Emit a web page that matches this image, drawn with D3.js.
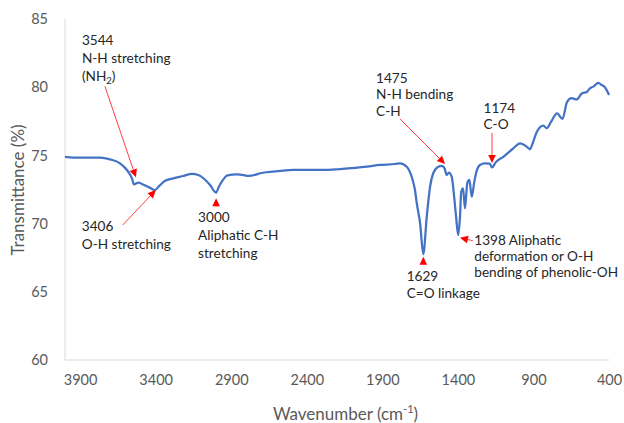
<!DOCTYPE html>
<html>
<head>
<meta charset="utf-8">
<script src="https://cdn.jsdelivr.net/npm/d3@7"></script>
<style>
  html, body { margin: 0; padding: 0; background: #fff; }
  svg { display: block; font-family: Lato, "Open Sans", sans-serif; }
</style>
</head>
<body>
<svg id="chart" width="624" height="423"></svg>
<script>
// FTIR spectrum: wavenumber (cm-1) vs transmittance (%)
const wavenumber = [
  4000, 3901, 3768, 3702, 3636, 3590, 3568, 3555, 3544, 3515, 3476, 3432, 3406, 3376, 3340,
  3283, 3217, 3161, 3118, 3078, 3040, 3000, 2982, 2958, 2925, 2864, 2809, 2787, 2731, 2709,
  2577, 2489, 2291, 2180, 2003, 1915, 1816, 1783, 1739, 1706, 1684, 1672, 1650, 1629, 1606,
  1584, 1563, 1530, 1507, 1488, 1475, 1460, 1441, 1427, 1412, 1398, 1386, 1378, 1366, 1353,
  1338, 1324, 1308, 1293, 1280, 1254, 1221, 1190, 1174, 1150, 1099, 1033, 989, 945, 923,
  905, 878, 835, 812, 784, 744, 708, 678, 647, 614, 580, 545, 526, 504, 471, 448, 426, 400
];
const transmittance = [
  74.90, 74.83, 74.83, 74.71, 74.42, 73.93, 73.56, 73.25, 72.88, 73.00, 72.83, 72.59, 72.46, 72.76, 73.12,
  73.32, 73.49, 73.64, 73.56, 73.27, 72.83, 72.27, 72.71, 73.15, 73.54, 73.61, 73.54, 73.49, 73.61, 73.69,
  73.86, 73.93, 73.93, 74.00, 74.17, 74.30, 74.37, 74.42, 74.17, 73.44, 72.46, 71.49, 70.02, 67.77, 70.51,
  72.71, 73.69, 74.17, 74.24, 74.05, 73.56, 73.73, 73.44, 72.22, 70.51, 69.16, 70.51, 72.34, 72.59, 71.12,
  72.95, 73.20, 71.97, 72.95, 73.69, 74.30, 74.42, 74.40, 74.12, 74.49, 74.90, 75.52, 75.89, 75.64, 75.45,
  75.89, 76.72, 77.19, 76.99, 77.45, 78.09, 77.67, 78.91, 79.19, 79.10, 79.54, 79.67, 79.92, 80.04, 80.31,
  80.16, 79.98, 79.43
];

const xTicks = [3900, 3400, 2900, 2400, 1900, 1400, 900, 400];
const yTicks = [60, 65, 70, 75, 80, 85];

// Assigned bands
const peakWavenumbers = [3544, 3406, 3000, 1475, 1174, 1629, 1398];
const peakLabels = [
  ["3544", "N-H stretching", "(NH|2|)"],
  ["3406", "O-H stretching"],
  ["3000", "Aliphatic C-H", "stretching"],
  ["1475", "N-H bending", "C-H"],
  ["1174", "C-O"],
  ["1629", "C=O linkage"],
  ["1398 Aliphatic", "deformation or O-H", "bending of phenolic-OH"]
];

// Callout placement relative to the band's point on the curve (px)
const calloutLayout = [
  { tip: [2, -7],    tail: [-29, -98],  text: [-52, -144], lh: 18 },
  { tip: [1, 0],     tail: [-32, 35],   text: [-73, 36],   lh: 18 },
  { tip: [0, 5.5],   tail: [0, 14.5],   text: [-18, 24.7], lh: 18 },
  { tip: [-1.5, -11],tail: [-46.5, -56],text: [-70.5, -97],lh: 16.6 },
  { tip: [0, -4.5],  tail: [0, -34.5],  text: [-8.5, -59.7],lh: 16.7 },
  { tip: [0, 2.7],   tail: [0, 11],     text: [-16.6, 22], lh: 17.3 },
  { tip: [1.8, 2.6], tail: [14.5, 5.6], text: [16.1, 5.6], lh: 16 }
];

const svg = d3.select("#chart");

const x = d3.scaleLinear().domain([4000, 400]).range([65, 609]);
const y = d3.scaleLinear().domain([60, 85]).range([360, 19]);

// Axis lines
svg.append("line")
  .attr("x1", x(4000)).attr("x2", x(4000))
  .attr("y1", y(85)).attr("y2", y(60))
  .attr("stroke", "#d9d9d9").attr("stroke-width", 1);

const xAxis = svg.append("g").attr("transform", `translate(0,${y(60)})`)
  .call(d3.axisBottom(x).tickValues(xTicks).tickSize(0).tickPadding(15).tickFormat(d3.format("d")));
xAxis.select(".domain").attr("stroke", "#d9d9d9").attr("d", `M${x(4000)},0H${x(400)}`);
xAxis.selectAll("text").attr("fill", "#595959").attr("font-size", 14.5)
  .attr("font-family", "Lato, sans-serif");

const yAxis = svg.append("g").attr("transform", `translate(${x(4000)},0)`)
  .call(d3.axisLeft(y).tickValues(yTicks).tickSize(0).tickPadding(17));
yAxis.select(".domain").remove();
yAxis.selectAll("text").attr("fill", "#595959").attr("font-size", 14.5)
  .attr("font-family", "Lato, sans-serif");

// Axis titles
const xTitle = svg.append("text")
  .attr("x", 345.5).attr("y", 420)
  .attr("text-anchor", "middle").attr("fill", "#595959").attr("font-size", 17);
xTitle.append("tspan").text("Wavenumber (cm");
xTitle.append("tspan").attr("font-size", 11).attr("dy", -7).text("-1");
xTitle.append("tspan").attr("dy", 7).text(")");

svg.append("text")
  .attr("transform", "translate(24,190) rotate(-90)")
  .attr("text-anchor", "middle").attr("fill", "#595959").attr("font-size", 17)
  .text("Transmittance (%)");

// Spectrum
const points = wavenumber.map((w, i) => [w, transmittance[i]]);
svg.append("path")
  .datum(points)
  .attr("fill", "none")
  .attr("stroke", "#4472c4")
  .attr("stroke-width", 2.25)
  .attr("stroke-linejoin", "round")
  .attr("d", d3.line().x(d => x(d[0])).y(d => y(d[1])).curve(d3.curveMonotoneX));

// Callouts
const notes = svg.append("g");
peakWavenumbers.forEach((w, i) => {
  const t = transmittance[wavenumber.indexOf(w)];
  const px = x(w), py = y(t);
  const L = calloutLayout[i];
  const tip = [px + L.tip[0], py + L.tip[1]];
  const tail = [px + L.tail[0], py + L.tail[1]];
  const dx = tip[0] - tail[0], dy = tip[1] - tail[1];
  const len = Math.hypot(dx, dy);
  const ux = dx / len, uy = dy / len, nx = -uy, ny = ux;
  const hl = 8, hw = 3.8;
  const base = [tip[0] - ux * hl, tip[1] - uy * hl];

  notes.append("line")
    .attr("x1", tail[0]).attr("y1", tail[1])
    .attr("x2", base[0]).attr("y2", base[1])
    .attr("stroke", "#ff4040").attr("stroke-width", 1);
  notes.append("path")
    .attr("d", `M${tip[0]},${tip[1]}L${base[0] + nx * hw},${base[1] + ny * hw}L${base[0] - nx * hw},${base[1] - ny * hw}Z`)
    .attr("fill", "#ff0000");

  const text = notes.append("text")
    .attr("fill", "#262626").attr("font-size", 13.6);
  peakLabels[i].forEach((line, j) => {
    const ty = py + L.text[1] + j * L.lh + 4.8;
    const tx = px + L.text[0];
    const parts = line.split("|");
    if (parts.length === 1) {
      text.append("tspan").attr("x", tx).attr("y", ty).text(line);
    } else {
      text.append("tspan").attr("x", tx).attr("y", ty).text(parts[0]);
      text.append("tspan").attr("font-size", 9.5).attr("dy", 3).text(parts[1]);
      text.append("tspan").attr("dy", -3).text(parts[2]);
    }
  });
});
</script>
</body>
</html>
